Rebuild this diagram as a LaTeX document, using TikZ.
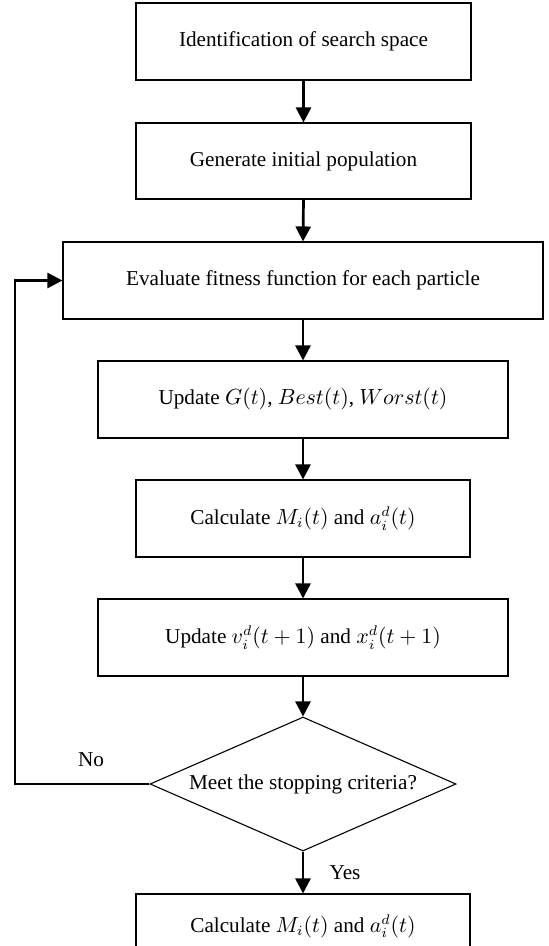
\documentclass[tikz,border=0pt]{standalone}
\usepackage{fontspec}
\setmainfont{Liberation Serif}
\usetikzlibrary{arrows.meta,shapes.geometric}
\begin{document}
\begin{tikzpicture}[x=0.5pt,y=-0.5pt,
  box/.style={draw, line width=0.55pt, minimum height=38.5pt, inner sep=0pt,
    font=\fontsize{10.6}{12}\selectfont},
  decision/.style={draw, diamond, line width=0.55pt, shape aspect=2.28,
    minimum width=153pt, minimum height=67pt, inner sep=0pt,
    font=\fontsize{10.6}{12}\selectfont},
  flow/.style={line width=1.35pt, -{Triangle[width=7.5pt,length=7.5pt]}},
  lbl/.style={font=\fontsize{10.6}{12}\selectfont, inner sep=0pt}]
\useasboundingbox (0,0) rectangle (548,946);
\clip (0,0) rectangle (548,946);
\node[box, minimum width=167.5pt] (b1) at (303.5,41.5) {Identification of search space};
\node[box, minimum width=167.5pt, minimum height=38pt] (b2) at (303.5,161) {Generate initial population};
\node[box, minimum width=240pt] (b3) at (303,280.5) {Evaluate fitness function for each particle};
\node[box, minimum width=205pt] (b4) at (303,399.5) {Update $G(t)$, $Best(t)$, $Worst(t)$};
\node[box, minimum width=167pt] (b5) at (303,518.5) {Calculate $M_i(t)$ and $a_i^d(t)$};
\node[box, minimum width=205pt] (b6) at (303,637.5) {Update $v_i^d(t+1)$ and $x_i^d(t+1)$};
\node[decision] (d) at (303,784) {Meet the stopping criteria?};
\node[box, minimum width=167pt, minimum height=32pt] (b7) at (303,926) {Calculate $M_i(t)$ and $a_i^d(t)$};
\coordinate (lp) at (15,784);
\draw[flow] (b1.south) -- (b2.north);
\draw[flow] (b2.south) -- (b3.north);
\draw[flow] (b3.south) -- (b4.north);
\draw[flow] (b4.south) -- (b5.north);
\draw[flow] (b5.south) -- (b6.north);
\draw[flow] (b6.south) -- (d.north);
\draw[flow] (d.south) -- (b7.north);
\draw[flow] (d.west) -- (lp) |- (b3.west);
\node[lbl] (no) at (91,760) {No};
\node[lbl] (yes) at (345,873) {Yes};
\end{tikzpicture}
\end{document}
